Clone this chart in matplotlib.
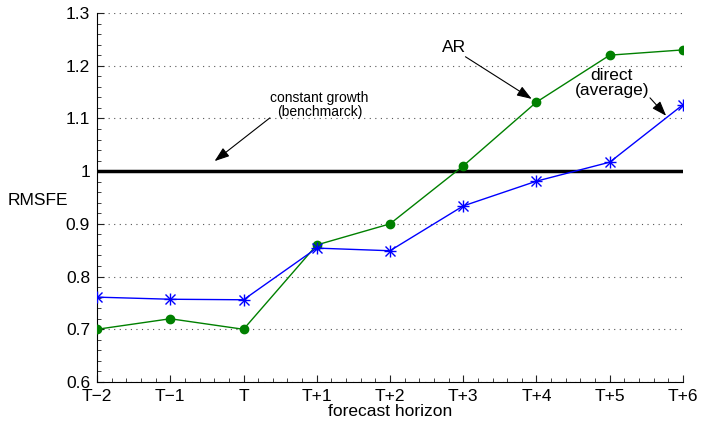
import matplotlib
matplotlib.use("Agg")
import matplotlib.pyplot as plt
from matplotlib.ticker import AutoMinorLocator

plt.rcParams['font.family'] = ['Liberation Sans', 'DejaVu Sans']

horizons = ['T\u22122', 'T\u22121', 'T', 'T+1', 'T+2', 'T+3', 'T+4', 'T+5', 'T+6']
ar_values = [0.70, 0.72, 0.70, 0.86, 0.90, 1.01, 1.131, 1.22, 1.23]
direct_values = [0.761, 0.757, 0.756, 0.854, 0.849, 0.934, 0.981, 1.017, 1.126]
benchmark = 1.0
y_ticks = [0.6, 0.7, 0.8, 0.9, 1.0, 1.1, 1.2, 1.3]
y_tick_labels = ['0.6', '0.7', '0.8', '0.9', '1', '1.1', '1.2', '1.3']

x = list(range(len(horizons)))

fig = plt.figure(figsize=(7.01, 4.23), dpi=100)
ax = fig.add_axes([0.1384, 0.0969, 0.8359, 0.8724])

for yv in y_ticks:
    if yv != benchmark:
        ax.axhline(yv, color='#555555', linestyle=(0, (1, 4)), linewidth=0.8, zorder=0)

ax.axhline(benchmark, color='black', linewidth=2.5, zorder=2)
ax.plot(x, ar_values, color='#008000', linewidth=1.0, marker='o', markersize=6, zorder=3)
ax.plot(x, direct_values, color='#0000ff', linewidth=1.0, marker='+', markersize=9,
        markeredgewidth=1.0, zorder=4)
ax.plot(x, direct_values, color='#0000ff', linestyle='none', marker='x', markersize=6.5,
        markeredgewidth=1.0, zorder=4)

ax.set_xlim(0, len(horizons) - 1)
ax.set_ylim(0.6, 1.3)
ax.set_xticks(x)
ax.set_xticklabels(horizons)
ax.set_yticks(y_ticks)
ax.set_yticklabels(y_tick_labels)
ax.xaxis.set_minor_locator(AutoMinorLocator(5))
ax.yaxis.set_minor_locator(AutoMinorLocator(5))
ax.tick_params(which='both', direction='in', labelsize=12.5, color='#222222')
ax.tick_params(which='major', length=5, width=0.8)
ax.tick_params(which='minor', length=3, width=0.6)
ax.tick_params(axis='x', pad=5)
ax.tick_params(axis='y', pad=5)
for s in ['top', 'right']:
    ax.spines[s].set_visible(False)
for s in ['left', 'bottom']:
    ax.spines[s].set_linewidth(0.8)

ax.set_xlabel('forecast horizon', fontsize=12.5, labelpad=0)
fig.text(0.011, 0.527, 'RMSFE', fontsize=12.5, ha='left', va='center')

arrow_kw = dict(arrowstyle='-|>,head_length=0.9,head_width=0.32', color='black', lw=0.8,
                shrinkA=0, shrinkB=0)

ax.text(3.04, 1.1256, 'constant growth\n(benchmarck)', fontsize=10, ha='center',
        va='center', linespacing=1.0)
ax.annotate('', xy=(1.605, 1.019), xytext=(2.36, 1.101), arrowprops=arrow_kw)

ax.text(4.87, 1.234, 'AR', fontsize=12.5, ha='center', va='center')
ax.annotate('', xy=(5.935, 1.137), xytext=(5.03, 1.217), arrowprops=arrow_kw)

ax.text(7.03, 1.167, 'direct\n(average)', fontsize=12.5, ha='center', va='center',
        linespacing=0.95)
ax.annotate('', xy=(7.77, 1.105), xytext=(7.55, 1.139), arrowprops=arrow_kw)

fig.savefig('out.png', dpi=100)
